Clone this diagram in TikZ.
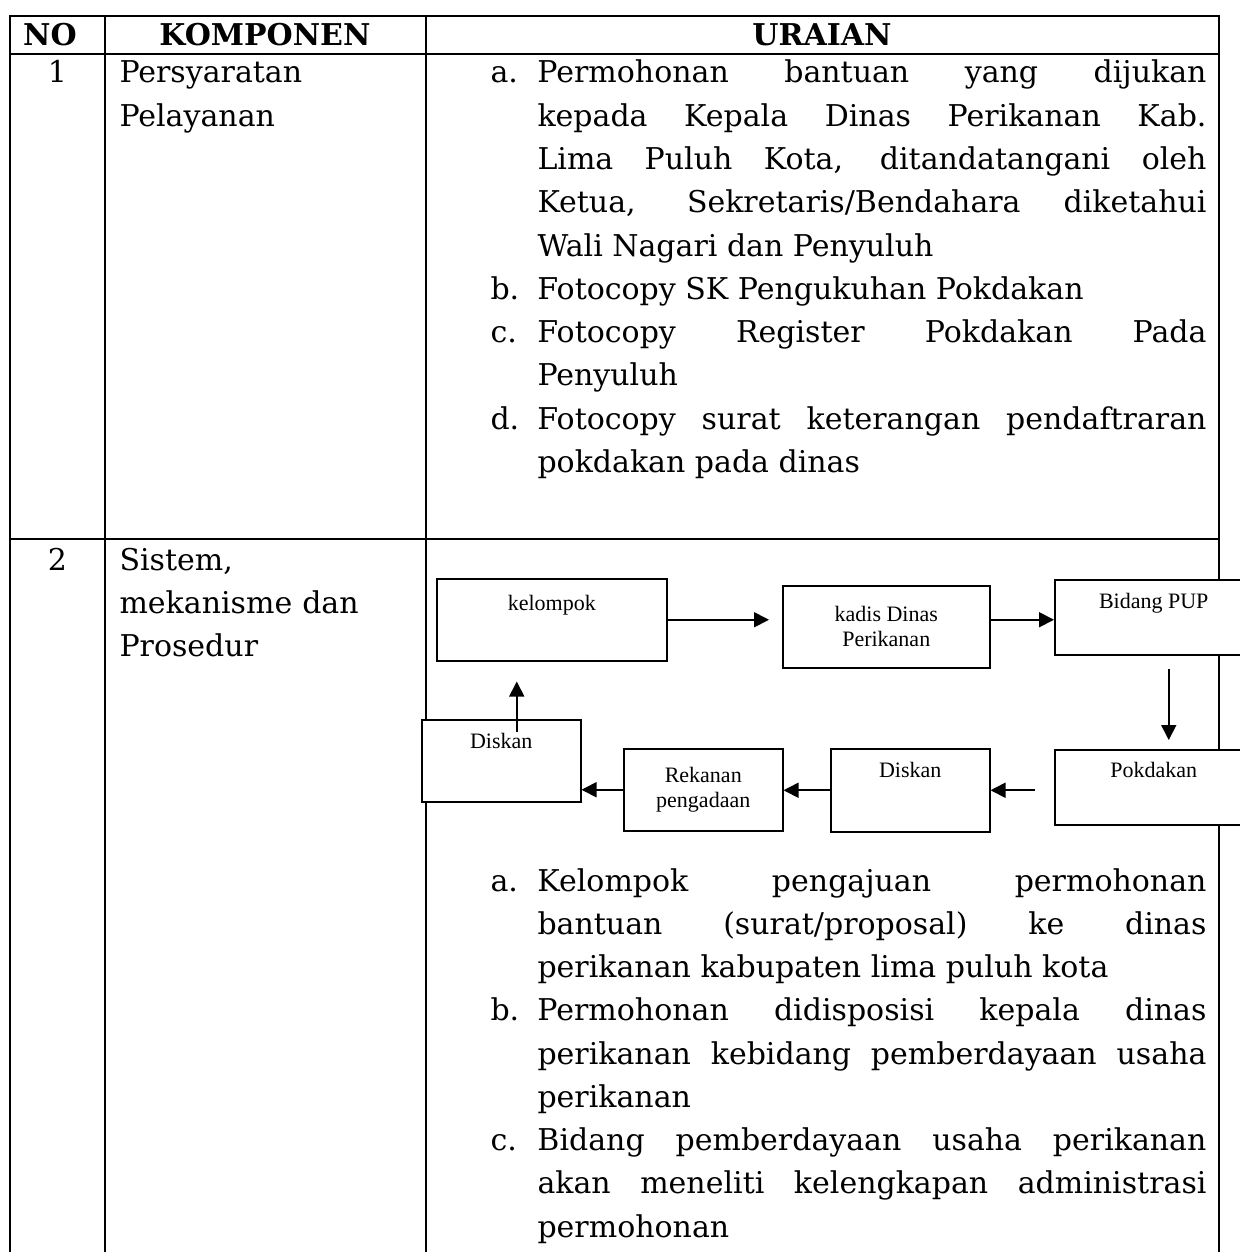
\documentclass[tikz,border=0pt]{standalone}
\usepackage{fontspec}
\setmainfont{DejaVu Serif}
\newfontfamily\boxfont{Liberation Serif}
\usetikzlibrary{arrows.meta, positioning}

\tolerance=10000
\hbadness=10000
\hyphenpenalty=10000

\newcommand{\butir}[2]{\noindent\hangindent=18.8pt\hangafter=1\makebox[18.8pt][l]{#1}#2\par}

\begin{document}
\begin{tikzpicture}[
  x=0.4pt, y=-0.4pt,
  grid/.style={line width=0.9pt},
  head/.style={anchor=base, inner sep=0pt, font=\fontsize{12}{17.3}\selectfont\bfseries},
  cell/.style={anchor=base west, inner sep=0pt, text width=124pt, align=left,
               font=\fontsize{12}{17.3}\selectfont},
  items/.style={anchor=base west, inner sep=0pt, text width=286.4pt, align=justify,
                font=\fontsize{12}{17.3}\selectfont},
  flow/.style={draw, line width=0.6pt, fill=white, inner sep=0pt, align=center,
               anchor=north west, font=\boxfont\fontsize{8.8}{9.9}\selectfont},
  arr/.style={-{Triangle[length=6pt, width=6pt]}, line width=0.7pt},
]
\useasboundingbox (0,0) rectangle (1239,1252);

% Table grid
\draw[grid] (10,1252) -- (10,16) -- (1219,16) -- (1219,1252);
\draw[grid] (10,54) -- (1219,54);
\draw[grid] (10,539) -- (1219,539);
\draw[grid] (105,16) -- (105,1252);
\draw[grid] (426,16) -- (426,1252);

% Header row
\node[head] (hdrNo) at (50,46) {NO};
\node[head] (hdrKomp) at (265,46) {KOMPONEN};
\node[head] (hdrUraian) at (822,46) {URAIAN};

% Row 1
\node[head, font=\fontsize{12}{17.3}\selectfont] (no1) at (57.5,83) {1};
\node[cell] (komp1) at (119,83) {Persyaratan\\Pelayanan};
\node[items] (uraian1) at (490,83) {%
  \butir{a.}{Permohonan bantuan yang dijukan\linebreak kepada Kepala Dinas Perikanan Kab.\linebreak
    Lima Puluh Kota, ditandatangani oleh\linebreak Ketua, Sekretaris/Bendahara diketahui\linebreak
    Wali Nagari dan Penyuluh}%
  \butir{b.}{Fotocopy SK Pengukuhan Pokdakan}%
  \butir{c.}{Fotocopy Register Pokdakan Pada\linebreak Penyuluh}%
  \butir{d.}{Fotocopy surat keterangan pendaftraran\linebreak pokdakan pada dinas}};

% Row 2
\node[head, font=\fontsize{12}{17.3}\selectfont] (no2) at (57.5,570) {2};
\node[cell] (komp2) at (119,570) {Sistem,\\mekanisme dan\\Prosedur};

% Flow boxes
\node[flow, minimum width=92pt, text height=12.8pt, text depth=20pt] (kelompok) at (436,578) {kelompok};
\node[flow, minimum width=82.8pt, minimum height=32.8pt] (kadis) at (782,585) {kadis Dinas\\Perikanan};
\node[flow, minimum width=79.2pt, text height=11.6pt, text depth=18.4pt] (bidang) at (1054,579) {Bidang PUP};
\node[flow, minimum width=79.2pt, text height=11.2pt, text depth=18.8pt] (pokdakan) at (1054,749) {Pokdakan};
\node[flow, minimum width=63.6pt, text height=11.6pt, text depth=21.6pt] (diskanB) at (830,748) {Diskan};
\node[flow, minimum width=63.6pt, minimum height=32.8pt] (rekanan) at (623,748) {Rekanan\\pengadaan};
\node[flow, minimum width=63.6pt, text height=11.6pt, text depth=21.2pt] (diskanA) at (421,719) {Diskan};

% Flow arrows
\draw[arr, shorten >=5.2pt] (kelompok.east) -- (kelompok.east -| kadis.west);
\draw[arr] (kadis.east |- kelompok.east) -- (bidang.west |- kelompok.east);
\draw[arr, shorten <=5.2pt, shorten >=3.6pt] ([xshift=6pt]bidang.south) -- ([xshift=6pt]pokdakan.north);
\draw[arr, shorten <=7.6pt] (pokdakan.west |- diskanB.east) -- (diskanB.east);
\draw[arr] (diskanB.west) -- (diskanB.west -| rekanan.east);
\draw[arr] (rekanan.west) -- (rekanan.west -| diskanA.east);
\draw[arr, shorten <=-5.2pt, shorten >=8pt] ([xshift=6.2pt]diskanA.north) -- ([xshift=6.2pt]diskanA.north |- kelompok.south);

% Row 2 description
\node[items] (uraian2) at (490,891) {%
  \butir{a.}{Kelompok pengajuan permohonan\linebreak bantuan (surat/proposal) ke dinas\linebreak
    perikanan kabupaten lima puluh kota}%
  \butir{b.}{Permohonan didisposisi kepala dinas\linebreak perikanan kebidang pemberdayaan usaha\linebreak
    perikanan}%
  \butir{c.}{Bidang pemberdayaan usaha perikanan\linebreak akan meneliti kelengkapan administrasi\linebreak
    permohonan}};

\end{tikzpicture}
\end{document}
